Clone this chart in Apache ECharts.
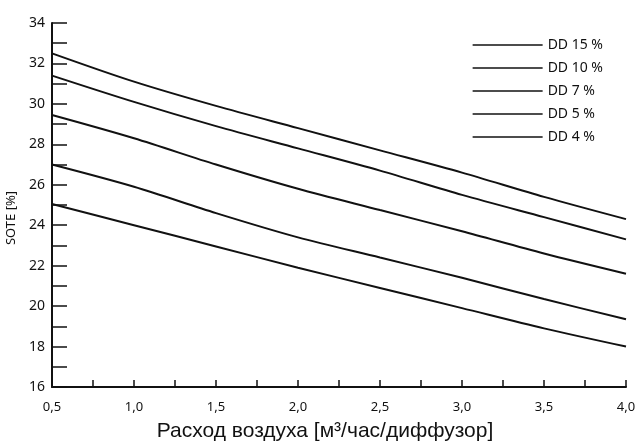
<!DOCTYPE html>
<html>
<head>
<meta charset="utf-8">
<script src="https://cdn.jsdelivr.net/npm/echarts@6/dist/echarts.min.js"></script>
<style>
  html, body { margin: 0; padding: 0; background: #fff; }
  #main { width: 639px; height: 442px; }
</style>
</head>
<body>
<div id="main"></div>
<script>
// air flow, m3/h per diffuser
var airFlow = [0.5, 1.0, 1.5, 2.0, 2.5, 3.0, 3.5, 4.0]

// SOTE [%] for each diffuser density
var dd15 = [32.5, 31.1, 29.9, 28.8, 27.7, 26.6, 25.4, 24.3]
var dd10 = [31.4, 30.1, 28.9, 27.8, 26.7, 25.5, 24.4, 23.3]
var dd7 = [29.45, 28.3, 27.0, 25.8, 24.75, 23.7, 22.6, 21.6]
var dd5 = [27.0, 25.9, 24.6, 23.4, 22.4, 21.4, 20.35, 19.35]
var dd4 = [25.05, 24.0, 22.95, 21.9, 20.9, 19.9, 18.9, 18.0]

var seriesNames = ['DD 15 %', 'DD 10 %', 'DD 7 %', 'DD 5 %', 'DD 4 %']
var seriesValues = [dd15, dd10, dd7, dd5, dd4]

function pairs (ys) {
  return airFlow.map(function (x, i) { return [x, ys[i]] })
}

var chart = echarts.init(document.getElementById('main'))

var option = {
  animation: false,
  textStyle: { fontFamily: 'Noto Sans' },
  grid: {
    left: 52,
    right: 13,
    top: 23,
    bottom: 55,
    outerBoundsMode: 'none'
  },
  legend: {
    orient: 'vertical',
    right: 31,
    top: 33,
    itemWidth: 70,
    itemHeight: 14,
    itemGap: 9,
    itemStyle: { opacity: 0 },
    lineStyle: { width: 1.5 },
    textStyle: { fontSize: 14, color: '#111', fontFamily: 'Noto Sans' },
    data: seriesNames
  },
  xAxis: {
    type: 'value',
    min: 0.5,
    max: 4.0,
    interval: 0.25,
    name: 'Расход воздуха [м³/час/диффузор]',
    nameLocation: 'middle',
    nameGap: 34,
    nameTextStyle: { fontSize: 21, color: '#111', fontFamily: 'Liberation Sans', padding: [0, 28, 0, 0] },
    axisLine: { lineStyle: { color: '#111', width: 2 } },
    axisTick: { inside: true, length: 7, lineStyle: { color: '#111', width: 1.5 } },
    axisLabel: {
      fontSize: 13,
      color: '#111',
      margin: 14,
      formatter: function (v) {
        if (Math.abs(v * 2 - Math.round(v * 2)) > 1e-6) return ''
        return v.toFixed(1).replace('.', ',')
      }
    },
    splitLine: { show: false }
  },
  yAxis: {
    type: 'value',
    min: 16,
    max: 34,
    interval: 1,
    name: 'SOTE [%]',
    nameLocation: 'middle',
    nameGap: 32,
    nameTextStyle: { fontSize: 13, color: '#111', padding: [0, 0, 0, -26] },
    axisLine: { lineStyle: { color: '#111', width: 2 } },
    axisTick: { inside: true, length: 15, lineStyle: { color: '#111', width: 1.5 } },
    axisLabel: {
      fontSize: 14,
      color: '#111',
      margin: 7,
      formatter: function (v) {
        return v % 2 === 0 ? String(v) : ''
      }
    },
    splitLine: { show: false }
  },
  series: seriesNames.map(function (name, i) {
    return {
      name: name,
      type: 'line',
      data: pairs(seriesValues[i]),
      symbol: 'none',
      smooth: 0.3,
      lineStyle: { color: '#111', width: 2 },
      itemStyle: { color: '#111' }
    }
  })
}

chart.setOption(option)
</script>
</body>
</html>
